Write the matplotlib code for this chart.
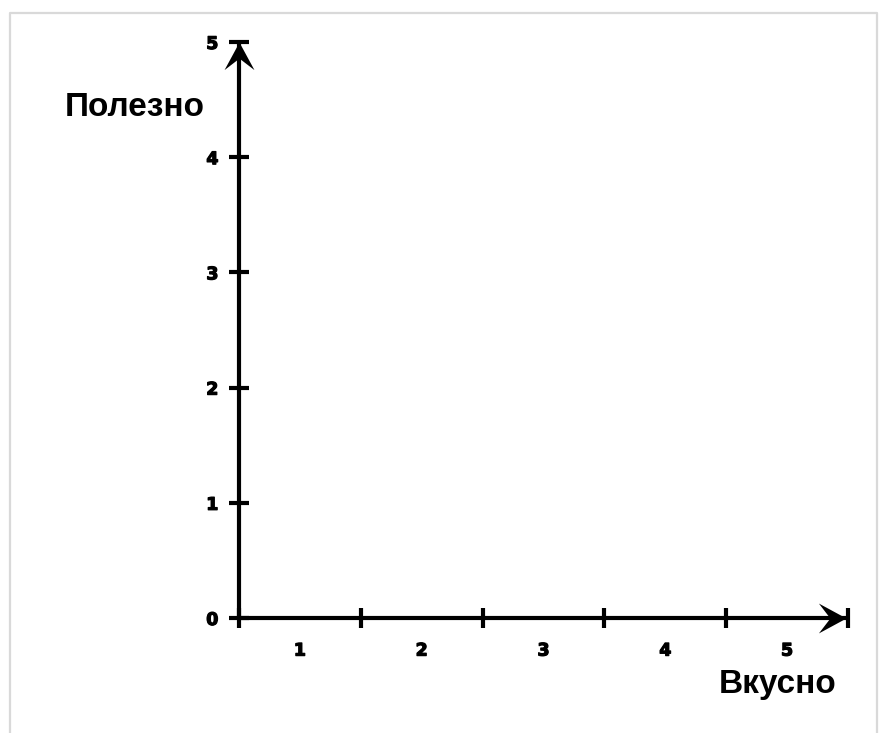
import matplotlib
matplotlib.use("Agg")
import matplotlib.pyplot as plt
from matplotlib.path import Path
from matplotlib.lines import Line2D
import matplotlib.patheffects as pe
import numpy as np

categories = ["1", "2", "3", "4", "5"]
y_ticks = [0, 1, 2, 3, 4, 5]
x_title = "Вкусно"
y_title = "Полезно"

W, H = 881, 733
fig = plt.figure(figsize=(W / 100, H / 100), dpi=100)
fig.patch.set_facecolor("white")

# light border
bx0, bx1, by0 = 9.5 / W, 876.5 / W, 1 - 12.5 / H
fig.add_artist(Line2D([bx0, bx0, bx1, bx1], [-0.1, by0, by0, -0.1],
                      transform=fig.transFigure, color="#d9d9d9", lw=1.6))

ax = fig.add_axes([239 / W, 115 / H, (848 - 239) / W, (618 - 42) / H])
ax.set_facecolor("none")
n = len(categories)
ax.set_xlim(0, n)
ax.set_ylim(y_ticks[0], y_ticks[-1])

for s in ["top", "right"]:
    ax.spines[s].set_visible(False)
for s in ["left", "bottom"]:
    ax.spines[s].set_linewidth(3)
    ax.spines[s].set_color("black")
    ax.spines[s].set_capstyle("round")

tick_len = 13.7
# ticks at category boundaries on x, labels centred on categories
ax.set_xticks(np.arange(0, n + 1))
ax.set_xticklabels([])
ax.set_xticks(np.arange(n) + 0.5, minor=True)
ax.set_xticklabels(categories, minor=True)
ax.tick_params(axis="x", which="major", direction="inout", length=tick_len, width=3, color="black")
ax.tick_params(axis="x", which="minor", length=0, pad=17)
ax.set_yticks(y_ticks)
ax.set_yticklabels([str(v) for v in y_ticks])
ax.tick_params(axis="y", which="major", direction="inout", length=tick_len, width=3, color="black", pad=8)

for lbl in ax.get_xticklabels(minor=True) + ax.get_yticklabels():
    lbl.set_fontfamily("DejaVu Sans")
    lbl.set_fontweight("bold")
    lbl.set_fontsize(12.5)
    lbl.set_path_effects([pe.withStroke(linewidth=0.9, foreground="black")])

# notched arrowheads as custom markers (tip at origin)
def arrow_marker(angle):
    verts = np.array([[0, 0], [-24, 13], [-14, 0], [-24, -13], [0, 0]], dtype=float)
    th = np.deg2rad(angle)
    R = np.array([[np.cos(th), -np.sin(th)], [np.sin(th), np.cos(th)]])
    verts = verts @ R.T
    codes = [Path.MOVETO, Path.LINETO, Path.LINETO, Path.LINETO, Path.CLOSEPOLY]
    return Path(verts, codes)

ms = 24 * 72 / 100 * 2 * 1.15
ax.plot([0], [y_ticks[-1]], marker=arrow_marker(90), ms=ms, color="black",
        mec="black", mew=0, clip_on=False, zorder=5)
ax.plot([n - 0.015], [0], marker=arrow_marker(0), ms=ms, color="black",
        mec="black", mew=0, clip_on=False, zorder=5)

fig.text(135 / W, 1 - 107 / H, y_title, ha="center", va="center",
         fontfamily="Liberation Sans", fontweight="bold", fontsize=24)
fig.text(778 / W, 1 - 684 / H, x_title, ha="center", va="center",
         fontfamily="Liberation Sans", fontweight="bold", fontsize=24)

fig.savefig("out.png", dpi=100, facecolor="white")
